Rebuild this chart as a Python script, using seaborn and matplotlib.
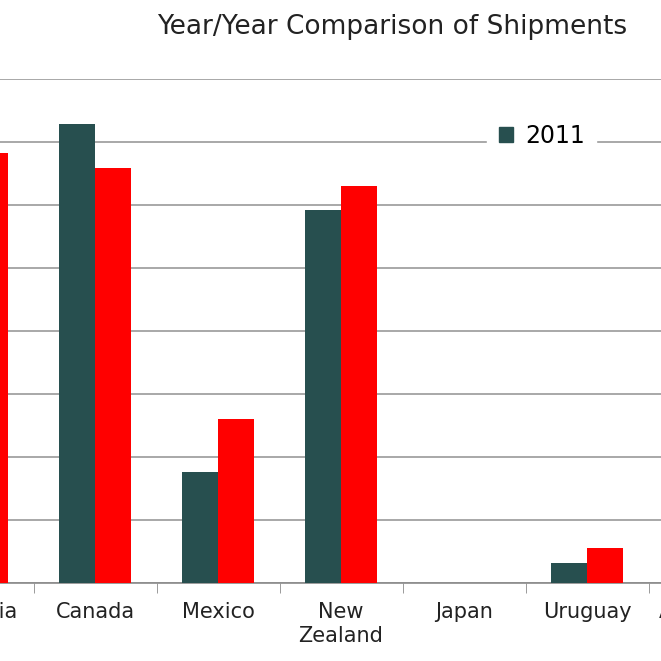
import matplotlib
matplotlib.use("Agg")
import matplotlib.pyplot as plt
import seaborn as sns
import pandas as pd
from matplotlib.patches import Patch

categories = ["Australia", "Canada", "Mexico", "New\nZealand", "Japan", "Uruguay", "Argentina"]
values_2011 = [6.5, 7.28, 1.76, 5.92, 0.0, 0.31, 1.0]
values_2012 = [6.83, 6.58, 2.6, 6.3, 0.0, 0.55, 1.0]
years = ["2011", "2012"]

df = pd.DataFrame({
    "country": categories * 2,
    "value": values_2011 + values_2012,
    "year": [years[0]] * len(categories) + [years[1]] * len(categories),
})

W = H = 661
fig = plt.figure(figsize=(6.61, 6.61), dpi=100)
left = -89.5 / W
width = 861 / W
bottom = 78 / H
height = (583 - 79) / H
ax = fig.add_axes([left, bottom, width, height])
sns.barplot(data=df, x="country", y="value", hue="year", order=categories,
            palette={"2011": "#274F4F", "2012": "#FF0000"}, width=0.58,
            saturation=1, ax=ax, legend=False, zorder=3)
ax.set_ylim(0, 8)
ax.set_xlim(-0.5, 6.5)
ax.set_yticks(range(0, 9))
ax.set_yticklabels([])
ax.tick_params(axis="y", length=0)
ax.grid(axis="y", color="#9a9a9a", linewidth=1.2, zorder=0)
ax.set_axisbelow(True)
for s in ["top", "right", "left"]:
    ax.spines[s].set_visible(False)
ax.spines["bottom"].set_color("#8a8a8a")
ax.spines["bottom"].set_linewidth(1.2)
ax.set_xticks(range(len(categories)))
ax.set_xticklabels(categories, fontsize=15, family="DejaVu Sans", color="#222222",
                   linespacing=1.25)
ax.tick_params(axis="x", length=0, pad=14)
ax.set_xticks([i + 0.5 for i in range(-1, len(categories))], minor=True)
ax.tick_params(axis="x", which="minor", length=7, color="#8a8a8a")
ax.set_xlabel("")
ax.set_ylabel("")

leg = fig.legend(handles=[Patch(color="#274F4F", label="2011")], loc="upper left",
                 bbox_to_anchor=(487 / W, 1 - 112 / H), frameon=True, fontsize=17,
                 handlelength=0.6, handleheight=0.6, borderpad=0.5,
                 handletextpad=0.5, borderaxespad=0)
leg.get_frame().set_edgecolor("white")
leg.get_frame().set_facecolor("white")
leg.get_frame().set_alpha(1)
leg.get_frame().set_width(180)

fig.text(392 / W, 1 - 27 / H, "Year/Year Comparison of Shipments", ha="center",
         va="center", fontsize=19, family="DejaVu Sans", color="#222222")
fig.savefig("out.png", dpi=100)
